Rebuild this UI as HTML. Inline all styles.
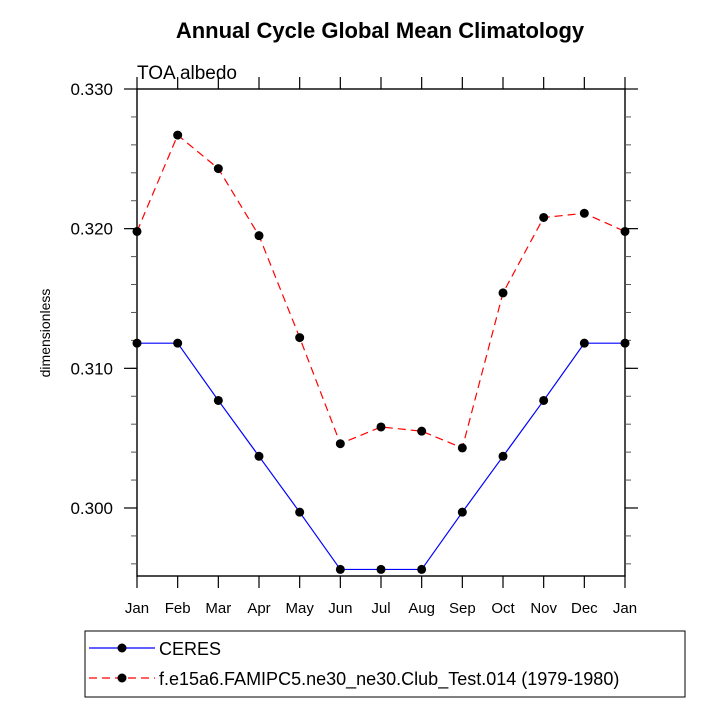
<!DOCTYPE html>
<html><head><meta charset="utf-8"><style>
body{margin:0;background:#fff;}
svg{display:block;font-family:"Liberation Sans",sans-serif;}
</style></head><body>
<svg id="chart" width="717" height="717" viewBox="0 0 717 717">
<text x="380" y="38" text-anchor="middle" font-size="22" font-weight="bold">Annual Cycle Global Mean Climatology</text>
<text x="137" y="79" font-size="19">TOA albedo</text>
<text transform="translate(50,333) rotate(-90)" text-anchor="middle" font-size="14">dimensionless</text>
<rect x="137" y="89" width="488" height="487" fill="none" stroke="#000" stroke-width="1.4"/>
<g id="axes"></g>
<g id="series"></g>
<g>
<rect x="85" y="631" width="600" height="66" fill="none" stroke="#000" stroke-width="1"/>
<g>
<line x1="89" y1="648" x2="155" y2="648" stroke="#0000ff" stroke-width="1.2"/>
<circle cx="122" cy="648" r="4.5" fill="#000"/>
<text x="159" y="655" font-size="18">CERES</text>
</g>
<g>
<line x1="89" y1="678" x2="155" y2="678" stroke="#ff0000" stroke-width="1.2" stroke-dasharray="8,5"/>
<circle cx="122" cy="678" r="4.5" fill="#000"/>
<text x="159" y="685" font-size="18">f.e15a6.FAMIPC5.ne30_ne30.Club_Test.014 (1979-1980)</text>
</g>
</g>
</svg>
<script>
const months=["Jan","Feb","Mar","Apr","May","Jun","Jul","Aug","Sep","Oct","Nov","Dec","Jan"];
const ceresValues=[0.3118,0.3118,0.3077,0.3037,0.2997,0.2956,0.2956,0.2956,0.2997,0.3037,0.3077,0.3118,0.3118];
const modelValues=[0.3198,0.3267,0.3243,0.3195,0.3122,0.3046,0.3058,0.3055,0.3043,0.3154,0.3208,0.3211,0.3198];
const yTicks=[0.300,0.310,0.320,0.330];
const yTickLabels=["0.300","0.310","0.320","0.330"];
const X0=137,X1=625,Y0=576,Y1=89,YMIN=0.29513,YMAX=0.330;
function xs(i){return X0+(X1-X0)*i/(months.length-1);}
function ys(v){return Y0-(v-YMIN)/(YMAX-YMIN)*(Y0-Y1);}
const NS="http://www.w3.org/2000/svg";
const axes=document.getElementById('axes'),ser=document.getElementById('series');
function mk(tag,attrs,parent){const e=document.createElementNS(NS,tag);for(const k in attrs)e.setAttribute(k,attrs[k]);parent.appendChild(e);return e;}
months.forEach((m,i)=>{
  const x=xs(i);
  const t=mk('line',{x1:x,y1:Y0,x2:x,y2:Y0+12,stroke:'#000','stroke-width':1.2},axes);
  
  
  const t2=mk('line',{x1:x,y1:Y1,x2:x,y2:Y1-12,stroke:'#000','stroke-width':1.2},axes);
  
  
  const l=mk('text',{x:x,y:613,'text-anchor':'middle','font-size':'15'},axes);
  l.textContent=m;
  
  
});
for(let v=0.296;v<0.3301;v+=0.002){
  const y=ys(v);
  [[X0,X0-6],[X1,X1+6]].forEach(p=>{
    const t=mk('line',{x1:p[0],y1:y,x2:p[1],y2:y,stroke:'#555'},axes);
    
    
  });
}
yTicks.forEach((v,i)=>{
  const y=ys(v);
  [[X0,X0-13],[X1,X1+13]].forEach(p=>{
    const t=mk('line',{x1:p[0],y1:y,x2:p[1],y2:y,stroke:'#000','stroke-width':1.2},axes);
    
    
  });
  const l=mk('text',{x:113,y:y+6,'text-anchor':'end','font-size':'17'},axes);
  l.textContent=yTickLabels[i];
  
  
});
function drawSeries(vals,color,dash,name){
  const pts=vals.map((v,i)=>xs(i)+','+ys(v)).join(' ');
  const pl=mk('polyline',{points:pts,fill:'none',stroke:color,'stroke-width':1.2},ser);
  if(dash)pl.setAttribute('stroke-dasharray',dash);
  
  
  vals.forEach((v,i)=>{
    const c=mk('circle',{cx:xs(i),cy:ys(v),r:4.5,fill:'#000'},ser);
    
    
  });
}
drawSeries(ceresValues,'#0000ff',null,'ceres');
drawSeries(modelValues,'#ff0000','8,5','model');
</script>
</body></html>
